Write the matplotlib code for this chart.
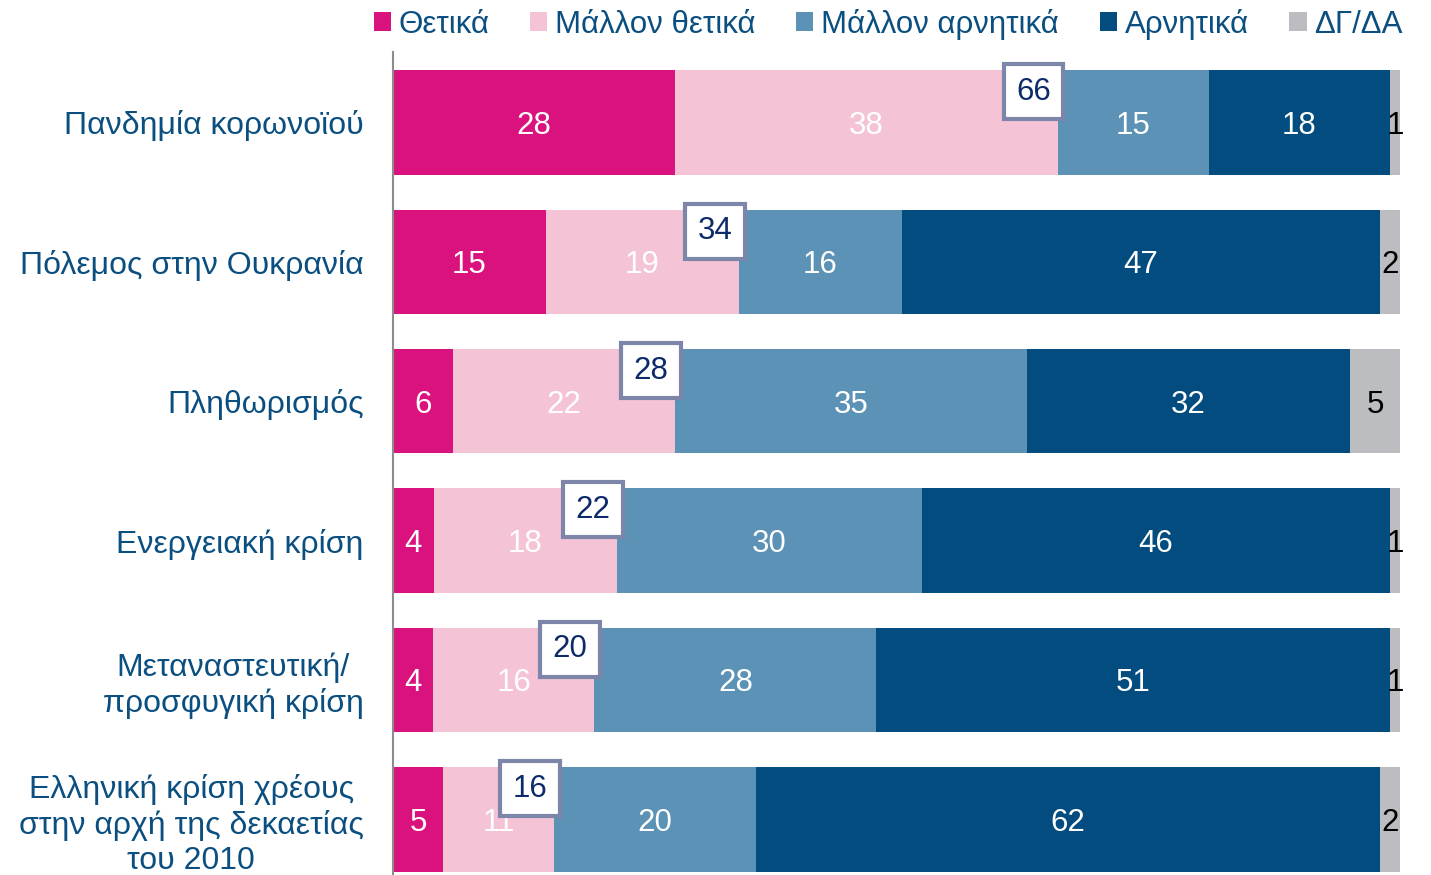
import numpy as np
import matplotlib.pyplot as plt

plt.rcParams['font.family'] = ['Liberation Sans', 'DejaVu Sans']

# δεδομένα
categories = ["Πανδημία κορωνοϊού", "Πόλεμος στην Ουκρανία", "Πληθωρισμός",
              "Ενεργειακή κρίση", "Μεταναστευτική/\nπροσφυγική κρίση",
              "Ελληνική κρίση χρέους\nστην αρχή της δεκαετίας\nτου 2010"]
series_names = ["Θετικά", "Μάλλον θετικά", "Μάλλον αρνητικά", "Αρνητικά", "ΔΓ/ΔΑ"]
positive = [28, 15, 6, 4, 4, 5]
rather_positive = [38, 19, 22, 18, 16, 11]
rather_negative = [15, 16, 35, 30, 28, 20]
negative = [18, 47, 32, 46, 51, 62]
dkna = [1, 2, 5, 1, 1, 2]
totals_positive = [66, 34, 28, 22, 20, 16]

colors = ["#d9127e", "#f4c3d6", "#5b92b5", "#034c7f", "#bcbdc1"]
text_colors = ["white", "white", "white", "white", "black"]
navy = "#0b4f80"
fs = 22.5

fig = plt.figure(figsize=(14.31, 8.75), dpi=100)
ax = fig.add_axes([0.2746, 0.0, 0.7038, 0.9406])

all_series = np.array([positive, rather_positive, rather_negative, negative, dkna], dtype=float)
row_sum = all_series.sum(axis=0)  # στρογγυλεμένα ποσοστά -> κάθε μπάρα στο 100%
widths = all_series / row_sum * 100

y = np.arange(len(categories))
left = np.zeros(len(categories))
for vals, raw, name, c, tc in zip(widths, all_series, series_names, colors, text_colors):
    ax.barh(y, vals, left=left, height=0.75, color=c, label=name)
    for yi, l, v, r in zip(y, left, vals, raw):
        ax.text(l + v / 2, yi, f"{int(r)}", ha='center', va='center_baseline',
                fontsize=fs, color=tc)
    left += vals

# κουτιά με το άθροισμα θετικών
boundary = widths[0] + widths[1]
for yi, b, t in zip(y, boundary, totals_positive):
    ax.text(b - 2.4, yi - 0.22, f"{t}", ha='center', va='center', fontsize=fs,
            color="#0d2a6b",
            bbox=dict(boxstyle='square,pad=0.4', facecolor='white',
                      edgecolor='#7d86a9', linewidth=3))

ax.set_xlim(0, 100)
ax.set_ylim(5.4, -0.506)
ax.set_yticks(y)
ax.set_yticklabels(categories, fontsize=fs + 0.5, color=navy, multialignment='center')
ax.tick_params(axis='y', length=0, pad=21)
ax.set_xticks([])
for s in ['top', 'right', 'bottom']:
    ax.spines[s].set_visible(False)
ax.spines['left'].set_color('#8c8c8c')
ax.spines['left'].set_linewidth(1.5)

leg = fig.legend(loc='upper right', bbox_to_anchor=(1.0, 1.022), ncol=5, frameon=False,
                 fontsize=fs, handlelength=0.55, handleheight=0.55, handletextpad=0.25,
                 columnspacing=1.3)
for t in leg.get_texts():
    t.set_color(navy)

fig.savefig("out.png", dpi=100)
